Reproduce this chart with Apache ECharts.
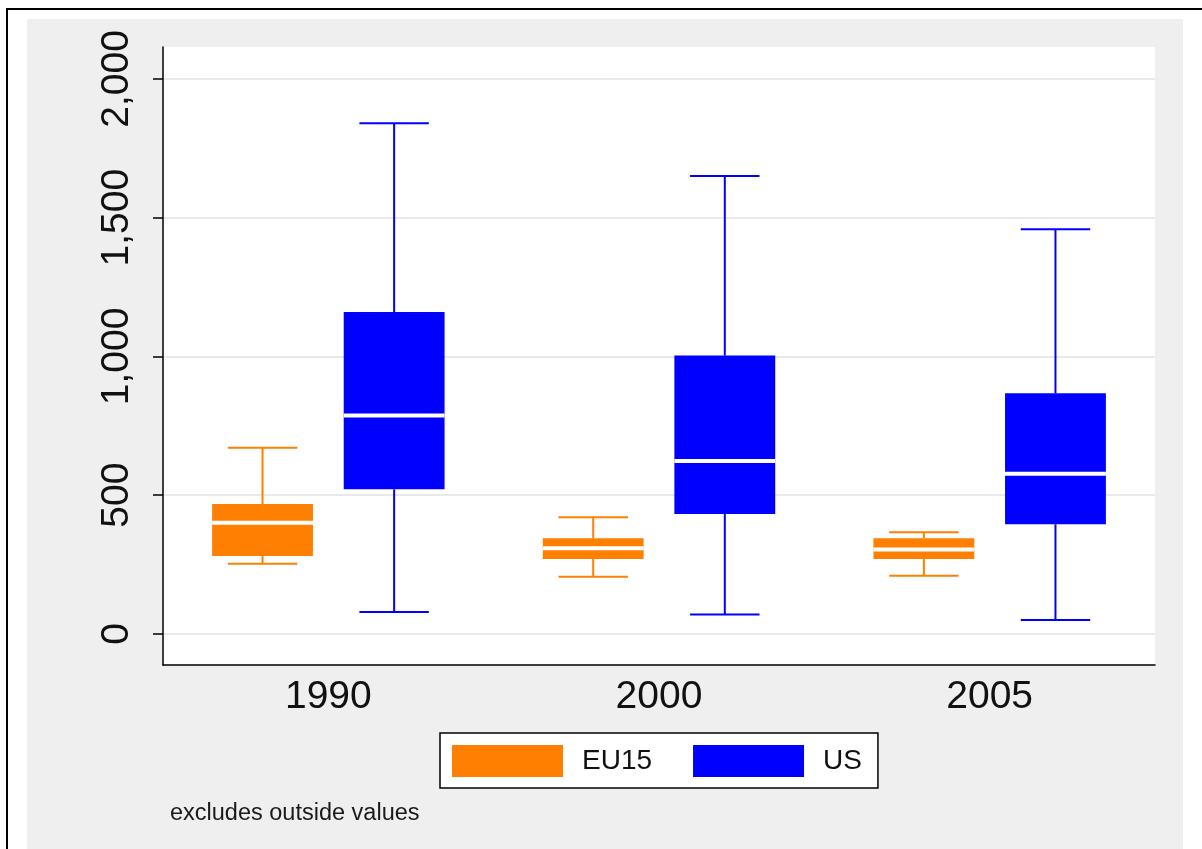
<!DOCTYPE html>
<html>
<head>
<meta charset="utf-8">
<title>Box plots: EU15 vs US</title>
<script src="https://cdn.jsdelivr.net/npm/echarts@6/dist/echarts.min.js"></script>
<style>
  html, body { margin: 0; padding: 0; background: #ffffff; }
  #chart { width: 1202px; height: 849px; }
</style>
</head>
<body>
<div id="chart"></div>
<script>
// Years on the x axis
const categories = ['1990', '2000', '2005'];
// Box statistics per year: [lower whisker, 25th pct, median, 75th pct, upper whisker]
const eu15Stats = [
  [253, 281, 401, 468, 671],
  [206, 270, 309, 345, 420],
  [210, 270, 304, 345, 366]
];
const usStats = [
  [79, 521, 787, 1160, 1840],
  [70, 432, 623, 1003, 1650],
  [50, 395, 577, 867, 1458]
];
// Labelled ticks on the value axis
const yTicks = [0, 500, 1000, 1500, 2000];

const FONT = '"Liberation Sans", Arial, Helvetica, sans-serif';
const EU_COLOR = '#ff8000';
const US_COLOR = '#0000ff';

// Each row: [category index, low, q1, median, q3, high]
function toRows(stats) {
  return stats.map((s, i) => [i].concat(s));
}

// Draws one box with whiskers; offsetRatio shifts it within the category band
function makeBoxRenderer(offsetRatio, color) {
  return function (params, api) {
    const xi = api.value(0);
    const band = api.size([1, 0])[0];
    const pLow = api.coord([xi, api.value(1)]);
    const pQ1 = api.coord([xi, api.value(2)]);
    const pMed = api.coord([xi, api.value(3)]);
    const pQ3 = api.coord([xi, api.value(4)]);
    const pHigh = api.coord([xi, api.value(5)]);
    const cx = pLow[0] + offsetRatio * band;
    const boxW = band * 0.305;
    const capW = band * 0.21;
    const lineStyle = { stroke: color, lineWidth: 2 };
    return {
      type: 'group',
      children: [
        { type: 'line', shape: { x1: cx, y1: pHigh[1], x2: cx, y2: pQ3[1] }, style: lineStyle },
        { type: 'line', shape: { x1: cx, y1: pQ1[1], x2: cx, y2: pLow[1] }, style: lineStyle },
        { type: 'line', shape: { x1: cx - capW / 2, y1: pHigh[1], x2: cx + capW / 2, y2: pHigh[1] }, style: lineStyle },
        { type: 'line', shape: { x1: cx - capW / 2, y1: pLow[1], x2: cx + capW / 2, y2: pLow[1] }, style: lineStyle },
        { type: 'rect', shape: { x: cx - boxW / 2, y: pQ3[1], width: boxW, height: pQ1[1] - pQ3[1] }, style: { fill: color } },
        { type: 'line', shape: { x1: cx - boxW / 2, y1: pMed[1], x2: cx + boxW / 2, y2: pMed[1] }, style: { stroke: '#ffffff', lineWidth: 4 } }
      ]
    };
  };
}

const chart = echarts.init(document.getElementById('chart'), null, { renderer: 'canvas' });

chart.setOption({
  animation: false,
  backgroundColor: '#ffffff',
  graphic: [
    // outer frame lines
    { type: 'rect', z: -100, shape: { x: 6, y: 8, width: 1196, height: 2 }, style: { fill: '#000000' } },
    { type: 'rect', z: -100, shape: { x: 6, y: 8, width: 2, height: 841 }, style: { fill: '#000000' } },
    // light grey chart region
    { type: 'rect', z: -99, shape: { x: 27, y: 19, width: 1156, height: 830 }, style: { fill: '#efefef' } },
    // note below the legend
    {
      type: 'text', z: 10, left: 170, top: 802,
      style: { text: 'excludes outside values', fontSize: 23.5, fontFamily: FONT, fill: '#1a1a1a' }
    }
  ],
  grid: {
    left: 163, top: 47, right: 47, bottom: 184,
    show: true, backgroundColor: '#ffffff', borderWidth: 0,
    containLabel: false
  },
  legend: {
    left: 440, top: 733,
    orient: 'horizontal',
    padding: [12, 16, 11, 12],
    itemGap: 41,
    itemWidth: 111, itemHeight: 32,
    backgroundColor: '#ffffff',
    borderColor: '#000000', borderWidth: 1.5, borderRadius: 0,
    icon: 'rect',
    textStyle: { fontSize: 28, fontFamily: FONT, color: '#111111', padding: [0, 0, 0, 14] },
    data: [
      { name: 'EU15', itemStyle: { color: EU_COLOR } },
      { name: 'US', itemStyle: { color: US_COLOR } }
    ]
  },
  xAxis: {
    type: 'category',
    data: categories,
    boundaryGap: true,
    axisLine: { show: true, onZero: false, lineStyle: { color: '#000000', width: 1.5 } },
    axisTick: { show: false },
    splitLine: { show: false },
    axisLabel: { fontSize: 39, fontFamily: FONT, color: '#111111', margin: 13 }
  },
  yAxis: {
    type: 'value',
    min: -112, max: 2115,
    axisLine: { show: true, onZero: false, lineStyle: { color: '#000000', width: 1.5 } },
    axisTick: { show: true, length: 10, customValues: yTicks, lineStyle: { color: '#000000', width: 1.5 } },
    splitLine: { show: true, lineStyle: { color: '#e2e2e2', width: 1.5 } },
    axisLabel: {
      customValues: yTicks,
      rotate: 90,
      margin: 26,
      fontSize: 39, fontFamily: FONT, color: '#111111',
      formatter: v => Number(v).toLocaleString('en-US')
    }
  },
  series: [
    {
      name: 'EU15', type: 'custom',
      itemStyle: { color: EU_COLOR },
      encode: { x: 0, y: [1, 2, 3, 4, 5] },
      renderItem: makeBoxRenderer(-0.199, EU_COLOR),
      data: toRows(eu15Stats)
    },
    {
      name: 'US', type: 'custom',
      itemStyle: { color: US_COLOR },
      encode: { x: 0, y: [1, 2, 3, 4, 5] },
      renderItem: makeBoxRenderer(0.199, US_COLOR),
      data: toRows(usStats)
    }
  ]
});
</script>
</body>
</html>
